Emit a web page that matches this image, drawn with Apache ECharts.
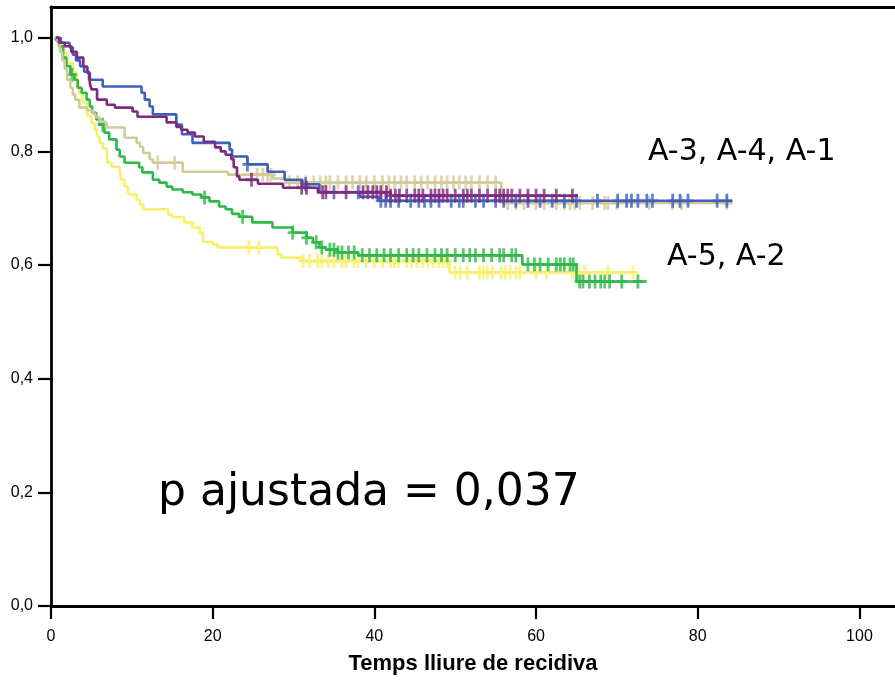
<!DOCTYPE html>
<html>
<head>
<meta charset="utf-8">
<script src="https://cdn.jsdelivr.net/npm/echarts@6/dist/echarts.min.js"></script>
<style>
html,body{margin:0;padding:0;background:#fff;}
#c{width:895px;height:680px;}
</style>
</head>
<body>
<div id="c"></div>
<script>
// ---- Data (Kaplan-Meier step curves: [time, survival]) ----
const xTicks = [0, 20, 40, 60, 80, 100];
const yTicks = [0, 0.2, 0.4, 0.6, 0.8, 1.0];

const blueSteps = [[0.6,1.0],[1.2,0.991],[2.3,0.983],[2.7,0.97],[3.1,0.96],[3.6,0.95],[4.1,0.94],[4.7,0.926],[6.4,0.914],[11.2,0.903],[11.6,0.891],[12.2,0.879],[12.6,0.865],[15.5,0.847],[16.2,0.83],[17.5,0.815],[22.1,0.803],[22.4,0.791],[24.3,0.777],[26.8,0.764],[28.9,0.75],[31.1,0.742],[33.2,0.728],[38.2,0.72],[40.5,0.713]];
const blueEnd = 84.3;
const blueCens = [24.3,31.5,35,38,40.8,41.4,42,43,44.5,45.5,46.2,47,48,49.5,50.5,51,52.5,53.5,55,56,57.5,59,60.5,62,63.5,65,67.6,70.1,71.2,71.8,72.6,73.7,74.4,76.9,77.8,78.8,82.4,83.6];

const purpleSteps = [[0.6,1.0],[1.0,0.991],[1.7,0.985],[2.5,0.975],[3.2,0.965],[4.0,0.949],[4.5,0.938],[4.8,0.92],[5.0,0.909],[5.7,0.891],[6.9,0.882],[7.9,0.877],[10.1,0.87],[10.7,0.861],[14.3,0.851],[15.5,0.843],[16.1,0.838],[16.9,0.833],[17.8,0.826],[18.9,0.817],[20.3,0.807],[21.0,0.80],[21.6,0.794],[22.3,0.786],[22.6,0.772],[23.0,0.756],[23.3,0.75],[25.6,0.743],[28.7,0.736],[33.0,0.728],[42.0,0.722]];
const purpleEnd = 65.2;
const purpleCens = [24.8,31,31.6,33.6,34,36.5,38.6,39.2,39.8,40.3,40.8,41.5,42,42.6,43.1,44,45,45.5,46,47,47.5,48,48.5,49,50,51,51.5,52,53,54,55,55.5,56,56.5,57,58,59,60,61,62.5,64.5];

const tanSteps = [[0.5,1.0],[0.8,0.99],[1.1,0.975],[1.4,0.96],[1.7,0.945],[2.0,0.926],[2.4,0.912],[2.7,0.9],[3.0,0.891],[3.5,0.877],[4.5,0.872],[5.2,0.866],[5.5,0.86],[6.0,0.852],[6.8,0.842],[9.1,0.824],[10.6,0.815],[11.0,0.808],[11.4,0.797],[12.2,0.786],[12.6,0.78],[16.3,0.764],[21.9,0.759],[27.5,0.752],[29.0,0.745],[55.7,0.709]];
const tanEnd = 84.3;
const tanCens = [13.2,15.3,25.5,26.2,26.8,27.2,29.5,30.5,31.5,32.5,33.3,34,34.5,35.5,36.5,37.3,38.2,39,40,41,41.8,42.5,43.3,44,45,45.8,46.6,47.5,48.3,49,49.8,50.5,51.3,52,53,54,55,56.5,57.5,58.5,60,61,62.5,63.5,64.2,64.8,65.4,67,68.5,68.9,70,74,76.9,78,83.6];

const greenSteps = [[0.5,1.0],[0.7,0.995],[1.0,0.985],[1.5,0.965],[1.9,0.95],[2.4,0.935],[2.9,0.926],[3.3,0.912],[3.8,0.903],[4.4,0.891],[4.8,0.879],[5.1,0.868],[5.6,0.856],[6.0,0.847],[6.6,0.833],[7.2,0.821],[8.1,0.803],[8.5,0.791],[9.1,0.78],[10.9,0.772],[11.3,0.763],[12.6,0.75],[13.4,0.745],[14.3,0.738],[15.0,0.733],[16.3,0.728],[17.5,0.724],[18.6,0.719],[19.6,0.712],[20.8,0.703],[21.6,0.698],[22.4,0.69],[23.3,0.685],[24.9,0.675],[27.4,0.666],[29.9,0.657],[31.6,0.648],[32.4,0.64],[33.2,0.631],[34.0,0.627],[35.5,0.622],[38.0,0.617],[58.3,0.601],[65.0,0.571]];
const greenEnd = 73.7;
const greenCens = [2.6,6.4,19.0,23.7,29.9,31.6,32.8,33.5,34.5,35,35.5,36,36.8,37.5,38.5,39.4,40.3,41.2,42,43,44,44.8,45.5,46.5,47.5,48.3,49,50,51,51.8,52.5,53.5,54.5,55.5,56,57,57.5,59,59.8,60.5,61.5,62.5,63,63.5,64.2,64.6,65.4,65.8,66.6,67.3,68,68.5,69.1,70.6,72.6];

const yellowSteps = [[0.6,1.0],[0.8,0.995],[1.3,0.984],[1.6,0.974],[2.0,0.956],[2.7,0.938],[3.2,0.917],[3.5,0.903],[3.9,0.886],[4.4,0.868],[4.6,0.862],[5.0,0.85],[5.4,0.838],[5.7,0.826],[6.0,0.815],[6.4,0.805],[6.9,0.797],[7.0,0.78],[7.5,0.773],[8.5,0.763],[8.7,0.75],[9.1,0.738],[9.5,0.729],[9.7,0.724],[10.6,0.715],[11.0,0.707],[11.4,0.698],[14.5,0.689],[15.0,0.684],[16.5,0.675],[17.5,0.666],[18.4,0.657],[18.8,0.641],[20.0,0.636],[20.6,0.631],[28.0,0.619],[28.5,0.613],[31.0,0.607],[49.3,0.587]];
const yellowEnd = 72.6;
const yellowCens = [24.5,25.7,31.2,32,33,33.5,34.3,35,36,36.5,37.5,38,39,40,41,42,42.5,43,44,44.6,45.3,46,46.6,47.3,48,48.5,49,50,50.6,51.5,53,53.5,54,54.6,55.7,56.2,56.8,57.5,58,60,61.3,64.5,65.2,66,68.9,72];

const labelTop = "A-3, A-4, A-1";
const labelBottom = "A-5, A-2";
const pText = "p ajustada = 0,037";
const xName = "Temps lliure de recidiva";

// ---- helpers ----
function stepLine(steps, end) {
  const d = steps.map(p => [p[0], p[1]]);
  d.push([end, steps[steps.length - 1][1]]);
  return d;
}
function survAt(steps, t) {
  let s = steps[0][1];
  for (const p of steps) { if (p[0] <= t) s = p[1]; else break; }
  return s;
}
function censPts(steps, cens) { return cens.map(t => [t, survAt(steps, t)]); }

const plus = 'path://M3.4,0h2.6v13h-2.6z M0,5.2h9.4v2.6h-9.4z';

const groups = [
  {name:'yellow', color:'#f7f06a', steps:yellowSteps, end:yellowEnd, cens:yellowCens, z:2},
  {name:'green',  color:'#2fb84a', steps:greenSteps,  end:greenEnd,  cens:greenCens,  z:3},
  {name:'tan',    color:'#d3ca9a', steps:tanSteps,    end:tanEnd,    cens:tanCens,    z:4},
  {name:'blue',   color:'#3f5fbd', steps:blueSteps,   end:blueEnd,   cens:blueCens,   z:5},
  {name:'purple', color:'#7d2a80', steps:purpleSteps, end:purpleEnd, cens:purpleCens, z:6}
];

const series = [];
groups.forEach(g => {
  series.push({
    type:'line', step:'end', data: stepLine(g.steps, g.end), showSymbol:false,
    lineStyle:{color:g.color, width:2.6}, z:g.z, silent:true, animation:false
  });
  series.push({
    type:'scatter', data: censPts(g.steps, g.cens), symbol: plus, symbolSize:[10,14],
    itemStyle:{color:g.color}, z:g.z, silent:true, animation:false
  });
});

const chart = echarts.init(document.getElementById('c'), null, {renderer:'canvas'});
chart.setOption({
  animation:false,
  backgroundColor:'#fff',
  grid:{left:51, right:0, top:7, bottom:73},
  xAxis:[{
    type:'value', min:0, max:104.4, interval:20,
    name:xName, nameLocation:'middle', nameGap:47,
    nameTextStyle:{fontFamily:'Liberation Sans', fontWeight:'bold', fontSize:22, color:'#000'},
    axisLine:{show:true, onZero:false, lineStyle:{color:'#000', width:2.8}},
    axisTick:{show:true, length:13, lineStyle:{color:'#000', width:2.2}, customValues:xTicks},
    axisLabel:{fontFamily:'Liberation Sans', fontSize:16, color:'#000', margin:23, customValues:xTicks},
    splitLine:{show:false}
  },{
    type:'value', position:'top', min:0, max:104.4,
    axisLine:{show:true, onZero:false, lineStyle:{color:'#000', width:2.8}},
    axisTick:{show:false}, axisLabel:{show:false}, splitLine:{show:false}
  }],
  yAxis:{
    type:'value', min:0, max:1.054, interval:0.2,
    axisLine:{show:true, onZero:false, lineStyle:{color:'#000', width:2.8}},
    axisTick:{show:true, length:13, lineStyle:{color:'#000', width:2.2}, customValues:yTicks},
    axisLabel:{fontFamily:'Liberation Sans', fontSize:16, color:'#000', margin:18, customValues:yTicks,
      formatter: v => v.toFixed(1).replace('.', ',')},
    splitLine:{show:false}
  },
  graphic:[
    {type:'text', left:648, top:137, style:{text:labelTop, font:'30px "DejaVu Sans"', fill:'#000'}},
    {type:'text', left:667, top:242, style:{text:labelBottom, font:'30px "DejaVu Sans"', fill:'#000'}},
    {type:'text', left:158, top:472, style:{text:pText, font:'44px "DejaVu Sans"', fill:'#000'}}
  ],
  series: series
});
</script>
</body>
</html>
